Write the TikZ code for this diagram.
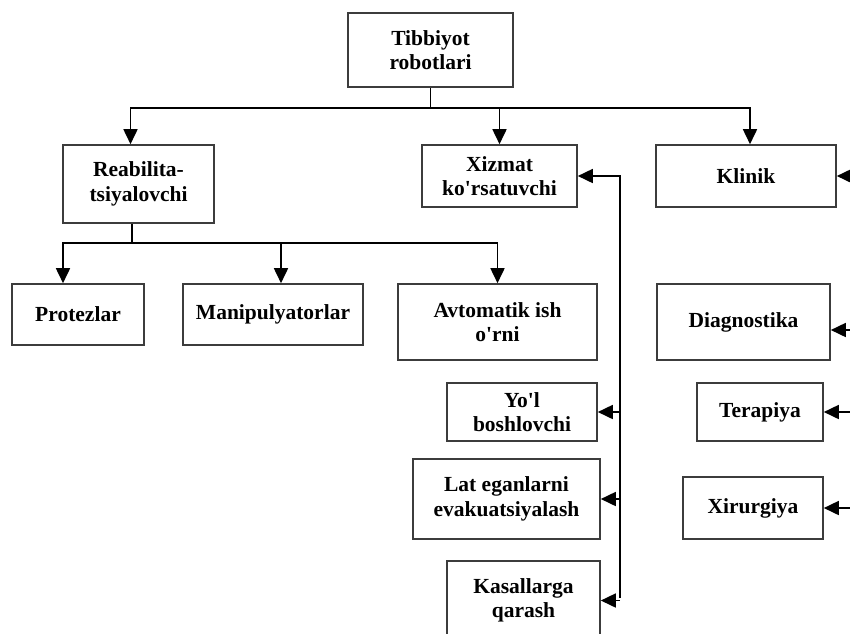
\documentclass[tikz,border=0pt]{standalone}
\usepackage{fontspec}
\setmainfont{Liberation Serif}
\definecolor{boxgray}{RGB}{60,60,60}
\usetikzlibrary{arrows.meta,positioning}
\newcommand{\apos}{\textquotesingle}

\begin{document}
\begin{tikzpicture}[x=1pt,y=-1pt,font=\fontsize{21.5}{24.5}\selectfont\bfseries,
  box/.style={draw=boxgray,line width=1.6pt,align=center,inner sep=2pt},
  link/.style={line width=1.7pt},
  arr/.style={link,-{Triangle[length=15pt,width=14pt]}}]
  \useasboundingbox (0,0) rectangle (850,633);
  \clip (0,0) rectangle (850,633);
  % top and first level
  \node[box,minimum width=165,minimum height=74] (tib) at (430.5,50) {Tibbiyot\\robotlari};
  \node[box,minimum width=151,minimum height=78] (reab) at (138.5,184) {Reabilita-\\tsiyalovchi};
  \node[box,minimum width=155,minimum height=62] (xiz) at (499.5,176) {Xizmat\\ko\apos rsatuvchi};
  \node[box,minimum width=180,minimum height=62] (kli) at (746,176) {Klinik};
  % second level
  \node[box,minimum width=132,minimum height=61] (pro) at (78,314.5) {Protezlar};
  \node[box,minimum width=180,minimum height=61] (man) at (273,314.5) {Manipulyatorlar};
  \node[box,minimum width=199,minimum height=76] (avt) at (497.5,322) {Avtomatik ish\\o\apos rni};
  \node[box,minimum width=173,minimum height=76] (dia) at (743.5,322) {Diagnostika};
  % service robots
  \node[box,minimum width=150,minimum height=58] (yol) at (522,412) {Yo\apos l\\boshlovchi};
  \node[box,minimum width=187,minimum height=80] (lat) at (506.5,499) {Lat eganlarni\\evakuatsiyalash};
  \node[box,minimum width=153,minimum height=79] (kas) at (523.5,600.5) {Kasallarga\\qarash};
  % clinical robots
  \node[box,minimum width=126,minimum height=58] (ter) at (760,412) {Terapiya};
  \node[box,minimum width=140,minimum height=62] (xir) at (753,508) {Xirurgiya};

  \coordinate (bus) at (430.5,108);
  \coordinate (bus2) at (132,243);
  \coordinate (rail) at (620,598);
  \coordinate (edge) at (852,0);

  \draw[link] (tib.south) -- (bus);
  \draw[arr] (bus) -| ([xshift=-8]reab.north);
  \draw[arr] (bus) -| (xiz.north);
  \draw[arr] (bus) -| ([xshift=4]kli.north);

  \draw[link] (reab.south -| bus2) -- (bus2);
  \draw[arr] (bus2) -| ([xshift=-15]pro.north);
  \draw[arr] (bus2) -| ([xshift=8]man.north);
  \draw[arr] (bus2) -| (avt.north);

  \draw[arr] (rail) |- (xiz.east);
  \draw[arr] (yol.east -| rail) -- (yol.east);
  \draw[arr] (lat.east -| rail) -- (lat.east);
  \draw[arr] (kas.east -| rail) -- (kas.east);

  \draw[arr] (kli.east -| edge) -- (kli.east);
  \draw[arr] ([yshift=-8]dia.east -| edge) -- ([yshift=-8]dia.east);
  \draw[arr] (ter.east -| edge) -- (ter.east);
  \draw[arr] (xir.east -| edge) -- (xir.east);
\end{tikzpicture}
\end{document}
